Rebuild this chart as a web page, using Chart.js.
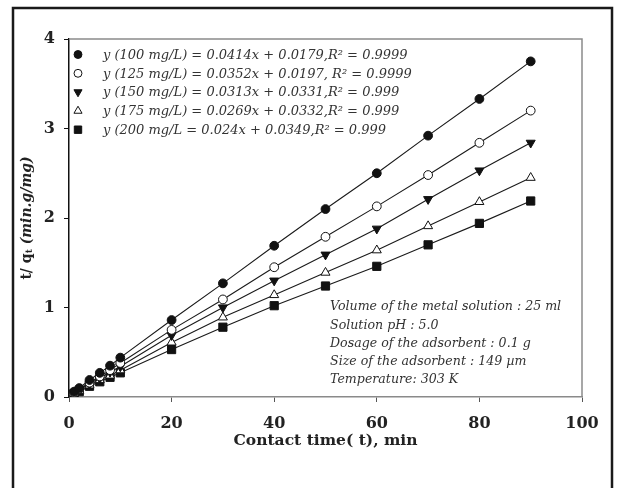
<!DOCTYPE html>
<html>
<head>
<meta charset="utf-8">
<script src="https://cdn.jsdelivr.net/npm/chart.js@4/dist/chart.umd.min.js"></script>
<style>
html,body{margin:0;padding:0;background:#fff;}
#wrap{width:617px;height:488px;position:relative;}
</style>
</head>
<body>
<div id="wrap"><canvas id="c" width="617" height="488"></canvas></div>
<script>
const xValues = [1, 2, 4, 6, 8, 10, 20, 30, 40, 50, 60, 70, 80, 90];
const s100 = [0.06, 0.10, 0.19, 0.27, 0.35, 0.44, 0.86, 1.27, 1.69, 2.10, 2.50, 2.92, 3.33, 3.75];
const s125 = [0.05, 0.09, 0.16, 0.23, 0.30, 0.38, 0.75, 1.09, 1.45, 1.79, 2.13, 2.48, 2.84, 3.20];
const s150 = [0.05, 0.08, 0.15, 0.21, 0.28, 0.34, 0.69, 1.00, 1.30, 1.59, 1.88, 2.21, 2.53, 2.84];
const s175 = [0.04, 0.07, 0.13, 0.19, 0.24, 0.30, 0.61, 0.89, 1.14, 1.39, 1.64, 1.91, 2.18, 2.45];
const s200 = [0.04, 0.06, 0.12, 0.17, 0.22, 0.27, 0.53, 0.78, 1.02, 1.24, 1.46, 1.70, 1.94, 2.19];
const seriesLabels = [
  "y (100 mg/L) = 0.0414x + 0.0179,R\u00B2 = 0.9999",
  "y (125 mg/L) = 0.0352x + 0.0197, R\u00B2 = 0.9999",
  "y (150 mg/L) = 0.0313x + 0.0331,R\u00B2 = 0.999",
  "y (175 mg/L) = 0.0269x + 0.0332,R\u00B2 = 0.999",
  "y (200 mg/L = 0.024x + 0.0349,R\u00B2 = 0.999"
];
const xTicks = [0, 20, 40, 60, 80, 100];
const yTicks = [0, 1, 2, 3, 4];
const xTitle = "Contact time( t), min";
const notes = [
  "Volume of the metal solution : 25 ml",
  "Solution pH : 5.0",
  "Dosage of the adsorbent : 0.1 g",
  "Size of the adsorbent : 149 \u00B5m",
  "Temperature: 303 K"
];

const serif = "'DejaVu Serif', serif";
const allSeries = [s100, s125, s150, s175, s200];
const styles = [
  {pointStyle: 'circle', fill: '#111', radius: 4.4, rotation: 0},
  {pointStyle: 'circle', fill: '#fff', radius: 4.4, rotation: 0},
  {pointStyle: 'triangle', fill: '#111', radius: 5.2, rotation: 180},
  {pointStyle: 'triangle', fill: '#fff', radius: 5.2, rotation: 0},
  {pointStyle: 'rect', fill: '#111', radius: 5.8, rotation: 0}
];

const datasets = allSeries.map((vals, i) => ({
  label: seriesLabels[i],
  data: xValues.map((x, j) => ({x: x, y: vals[j]})),
  borderColor: '#1a1a1a',
  borderWidth: 1.1,
  backgroundColor: styles[i].fill,
  pointBackgroundColor: styles[i].fill,
  pointBorderColor: '#111',
  pointBorderWidth: 1,
  pointStyle: styles[i].pointStyle,
  pointRadius: styles[i].radius,
  pointRotation: styles[i].rotation,
  showLine: true,
  tension: 0,
  fill: false
}));

const decor = {
  id: 'decor',
  beforeDraw(chart) {
    const ctx = chart.ctx;
    ctx.save();
    ctx.strokeStyle = '#1a1a1a';
    ctx.lineWidth = 2.5;
    ctx.strokeRect(13, 8, 599, 520);
    ctx.restore();
  },
  afterDatasetsDraw(chart) {
    const ctx = chart.ctx;
    const a = chart.chartArea;
    ctx.save();
    ctx.strokeStyle = '#8a8a8a';
    ctx.lineWidth = 1.5;
    ctx.beginPath();
    ctx.moveTo(a.left, a.top);
    ctx.lineTo(a.right, a.top);
    ctx.lineTo(a.right, a.bottom);
    ctx.stroke();

    // legend
    const lx = 78, tx = 103, ly0 = 54.5, dy = 18.8;
    ctx.font = "italic 13px " + serif;
    ctx.textBaseline = 'middle';
    ctx.textAlign = 'left';
    chart.data.datasets.forEach((ds, i) => {
      const y = ly0 + i * dy;
      ctx.fillStyle = ds.pointBackgroundColor;
      ctx.strokeStyle = '#111';
      ctx.lineWidth = 1;
      Chart.helpers.drawPoint(ctx, {pointStyle: ds.pointStyle, radius: ds.pointRadius * 0.9, rotation: ds.pointRotation, borderWidth: 1}, lx, y);
      ctx.fillStyle = '#333';
      ctx.fillText(ds.label, tx, y + 1);
    });

    // notes
    ctx.font = "italic 12.6px " + serif;
    ctx.fillStyle = '#333';
    notes.forEach((t, i) => ctx.fillText(t, 330, 307 + i * 18.3));

    // x title
    ctx.font = "bold 15.5px " + serif;
    ctx.fillStyle = '#222';
    ctx.textAlign = 'center';
    ctx.fillText(xTitle, (a.left + a.right) / 2, 441);

    // y title with subscript
    ctx.translate(27, (a.top + a.bottom) / 2);
    ctx.rotate(-Math.PI / 2);
    const runs = [
      {t: "t/ q", f: "bold 14px " + serif, dy: 0},
      {t: "t", f: "bold 9px " + serif, dy: 3},
      {t: " (min.g/mg)", f: "italic bold 14px " + serif, dy: 0}
    ];
    let total = 0;
    runs.forEach(r => { ctx.font = r.f; r.w = ctx.measureText(r.t).width; total += r.w; });
    let x = -total / 2;
    ctx.textAlign = 'left';
    runs.forEach(r => { ctx.font = r.f; ctx.fillText(r.t, x, r.dy); x += r.w; });
    ctx.restore();
  }
};

new Chart(document.getElementById('c'), {
  type: 'scatter',
  data: {datasets: datasets},
  plugins: [decor],
  options: {
    responsive: false,
    animation: false,
    devicePixelRatio: 1,
    layout: {padding: {left: 0, top: 39, right: 35, bottom: 31}},
    plugins: {legend: {display: false}, tooltip: {enabled: false}},
    scales: {
      x: {
        type: 'linear', min: 0, max: 100,
        afterBuildTicks: s => { s.ticks = xTicks.map(v => ({value: v})); },
        afterFit: s => { s.height = 60; },
        border: {color: '#8a8a8a', width: 1.5},
        grid: {drawOnChartArea: false, drawTicks: true, tickLength: 5, color: '#555'},
        ticks: {color: '#222', padding: 12, font: {family: serif, weight: 'bold', size: 16}, maxRotation: 0}
      },
      y: {
        type: 'linear', min: 0, max: 4,
        afterBuildTicks: s => { s.ticks = yTicks.map(v => ({value: v})); },
        afterFit: s => { s.width = 69; },
        border: {color: '#111', width: 1.5},
        grid: {drawOnChartArea: false, drawTicks: true, tickLength: 5, color: '#111'},
        ticks: {color: '#222', padding: 9, font: {family: serif, weight: 'bold', size: 16}}
      }
    }
  }
});
</script>
</body>
</html>
